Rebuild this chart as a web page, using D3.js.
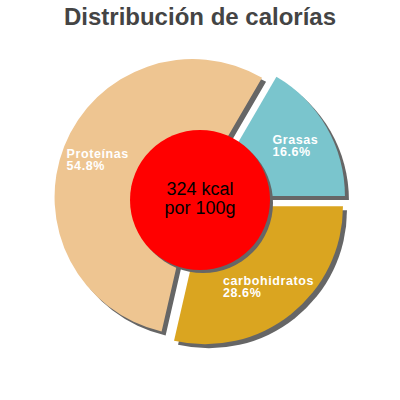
<!DOCTYPE html>
<html><head><meta charset="utf-8">
<script src="https://cdn.jsdelivr.net/npm/d3@7"></script>
<style>html,body{margin:0;padding:0;background:#fff;}</style>
</head><body>
<svg id="c" width="400" height="400"></svg>
<script>
const categories = ["Grasas", "carbohidratos", "Proteínas"];
const percents = [16.6, 28.6, 54.8];
const colors = ["#7AC5CD", "#DAA520", "#EEC591"];
const title = "Distribución de calorías";
const centerLines = ["324 kcal", "por 100g"];

const svg = d3.select("#c");
const cx = 200, cy = 200, R = 138, explode = 8, labelR = 102, innerR = 70;
const shadowDx = 4, shadowDy = 4;

svg.append("text").attr("x", 200).attr("y", 25).attr("text-anchor", "middle")
  .attr("font-family", "Liberation Sans, Arial, sans-serif").attr("font-weight", "bold")
  .attr("font-size", 24).attr("fill", "#444").text(title);

const data = categories.map((c, i) => ({name: c, value: percents[i], color: colors[i]}));
const firstFrac = percents[0] / d3.sum(percents);
const start = Math.PI / 2 - 2 * Math.PI * firstFrac;
const pie = d3.pie().sort(null).value(d => d.value).startAngle(start).endAngle(start + 2 * Math.PI);
const arcs = pie(data);
const arc = d3.arc().innerRadius(0).outerRadius(R);

function off(d) {
  const m = (d.startAngle + d.endAngle) / 2;
  return [Math.sin(m) * explode, -Math.cos(m) * explode];
}

const g = svg.append("g").attr("transform", `translate(${cx},${cy})`);
// shadows
g.selectAll("path.sh").data(arcs).join("path").attr("class", "sh")
  .attr("d", arc).attr("fill", "#666")
  .attr("transform", d => { const o = off(d); return `translate(${o[0] + shadowDx},${o[1] + shadowDy})`; });
// slices
g.selectAll("path.sl").data(arcs).join("path").attr("class", "sl")
  .attr("d", arc).attr("fill", d => d.data.color)
  .attr("transform", d => { const o = off(d); return `translate(${o[0]},${o[1]})`; });

// labels
arcs.forEach(d => {
  const m = (d.startAngle + d.endAngle) / 2;
  const o = off(d);
  const px = Math.sin(m) * labelR + o[0];
  const py = -Math.cos(m) * labelR + o[1];
  const t = g.append("text").attr("font-family", "Liberation Sans, Arial, sans-serif")
    .attr("font-weight", "bold").attr("font-size", 12.5).attr("fill", "#fff")
    .attr("letter-spacing", 0.6);
  const l1 = t.append("tspan").text(d.data.name);
  const l2 = t.append("tspan").text(d.data.value.toFixed(1) + "%");
  const w = Math.max(l1.node().getComputedTextLength(), l2.node().getComputedTextLength());
  const x0 = px - w / 2;
  l1.attr("x", x0).attr("y", py - 1.5);
  l2.attr("x", x0).attr("y", py + 10.5);
});

// center circle
g.append("circle").attr("cx", 3).attr("cy", 3).attr("r", innerR).attr("fill", "#666");
g.append("circle").attr("r", innerR).attr("fill", "#FF0000");
const ct = g.append("text").attr("text-anchor", "middle")
  .attr("font-family", "Liberation Sans, Arial, sans-serif").attr("font-size", 18).attr("fill", "#000");
centerLines.forEach((s, i) => ct.append("tspan").attr("x", 0).attr("y", -5 + i * 19).text(s));
</script>
</body></html>
